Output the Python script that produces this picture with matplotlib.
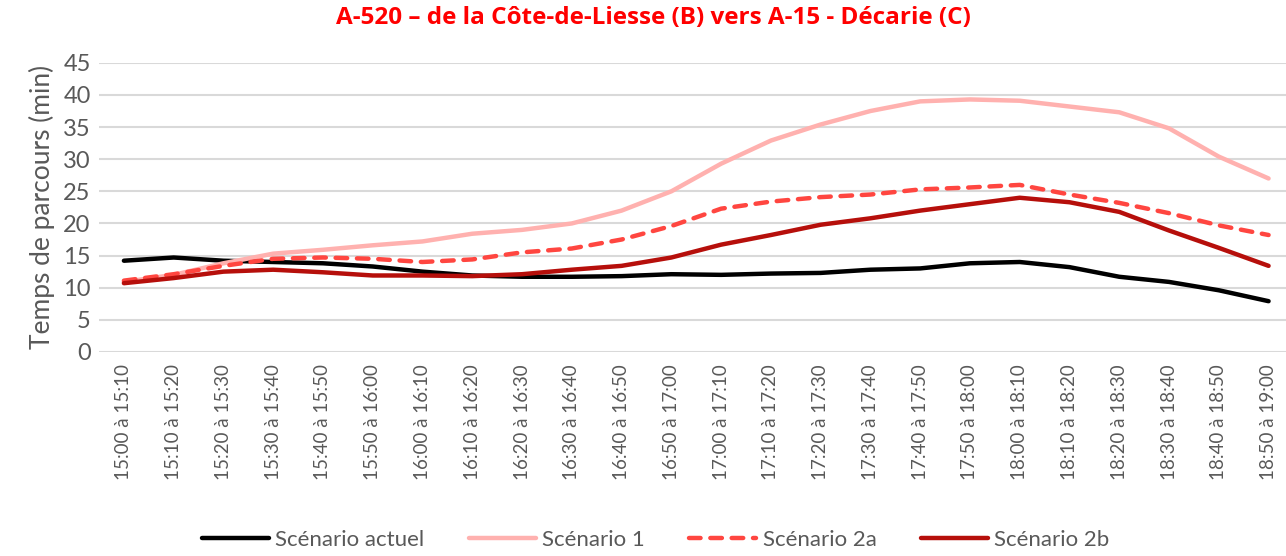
import matplotlib
matplotlib.use('Agg')
import matplotlib.pyplot as plt

periods = ['15:00', '15:10', '15:20', '15:30', '15:40', '15:50', '16:00', '16:10',
           '16:20', '16:30', '16:40', '16:50', '17:00', '17:10', '17:20', '17:30',
           '17:40', '17:50', '18:00', '18:10', '18:20', '18:30', '18:40', '18:50', '19:00']
labels = [f"{periods[i]} à {periods[i + 1]}" for i in range(len(periods) - 1)]

actuel = [14.2, 14.7, 14.2, 14.0, 13.8, 13.3, 12.5, 11.9, 11.7, 11.7, 11.8, 12.1,
          12.0, 12.2, 12.3, 12.8, 13.0, 13.8, 14.0, 13.2, 11.7, 10.9, 9.6, 7.9]
scen1 = [10.9, 12.0, 13.8, 15.3, 15.9, 16.6, 17.2, 18.4, 19.0, 20.0, 22.0, 25.0,
         29.3, 32.9, 35.4, 37.5, 39.0, 39.3, 39.1, 38.2, 37.3, 34.8, 30.4, 27.0]
scen2a = [11.1, 12.1, 13.4, 14.5, 14.7, 14.5, 14.0, 14.4, 15.5, 16.1, 17.5, 19.6,
          22.3, 23.4, 24.1, 24.5, 25.3, 25.6, 26.0, 24.5, 23.2, 21.6, 19.7, 18.2]
scen2b = [10.7, 11.5, 12.5, 12.8, 12.4, 11.9, 11.9, 11.8, 12.1, 12.8, 13.4, 14.7,
          16.7, 18.2, 19.8, 20.8, 22.0, 23.0, 24.0, 23.3, 21.8, 18.9, 16.2, 13.4]

gray = '#595959'
fig = plt.figure(figsize=(12.86, 5.56), dpi=100)
ax = fig.add_axes([0.077, 0.367, 0.923, 0.52])

x = range(len(labels))
ax.plot(x, actuel, color='black', lw=3.2, label='Scénario actuel', solid_capstyle='round')
ax.plot(x, scen1, color='#FFB1AF', lw=3.2, label='Scénario 1', solid_capstyle='round')
ax.plot(x, scen2a, color='#FF4640', lw=3.2, label='Scénario 2a', dashes=(2.6, 2.2),
        dash_capstyle='round')
ax.plot(x, scen2b, color='#B60F0B', lw=3.2, label='Scénario 2b', solid_capstyle='round')

ax.set_ylim(0, 45)
ax.set_yticks(range(0, 46, 5))
ax.set_xlim(-0.5, 23.35)
ax.set_xticks(list(x))
ax.set_xticklabels(labels, rotation=90, fontsize=13.5, color=gray, family='Lato')
for t in ax.get_yticklabels():
    t.set_fontsize(17)
    t.set_color(gray)
    t.set_family('Lato')
ax.tick_params(axis='x', length=0, pad=9)
ax.tick_params(axis='y', length=0, pad=6)
ax.grid(axis='y', color='#D9D9D9', lw=1.5)
ax.set_axisbelow(True)
for s in ax.spines.values():
    s.set_visible(False)
ax.set_ylabel('Temps de parcours (min)', fontsize=19, color=gray, family='Lato', labelpad=6)

fig.suptitle('A-520 – de la Côte-de-Liesse (B) vers A-15 - Décarie (C)', x=0.508, y=0.99,
             fontsize=17.5, fontweight='bold', color='#FF0000', family='Open Sans')

leg = fig.legend(loc='lower center', bbox_to_anchor=(0.51, -0.025), ncol=4, frameon=False,
                 handlelength=3.0, columnspacing=2.0, handletextpad=0.3,
                 prop={'family': 'Lato', 'size': 16})
for t in leg.get_texts():
    t.set_color(gray)

fig.savefig('out.png', dpi=100)
